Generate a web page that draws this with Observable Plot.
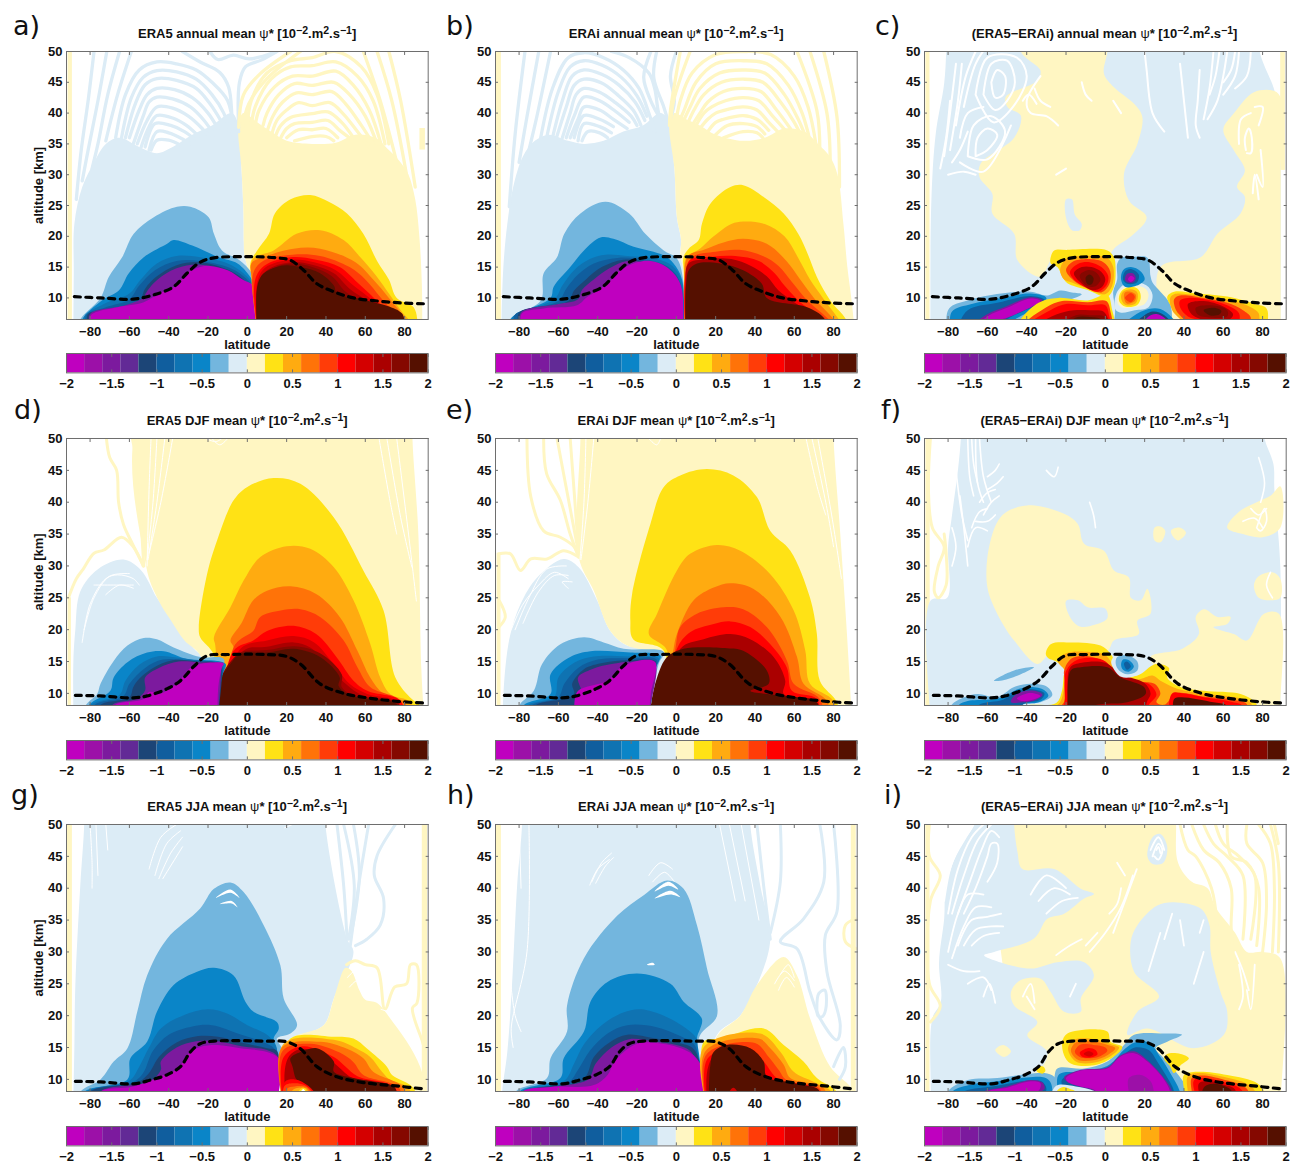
<!DOCTYPE html>
<html><head><meta charset="utf-8">
<script src="https://cdn.jsdelivr.net/npm/d3@7"></script>
<script src="https://cdn.jsdelivr.net/npm/@observablehq/plot@0.6"></script>
<style>
html,body{margin:0;padding:0;background:#fff}
#page{position:relative;width:1290px;height:1163px;overflow:hidden;font-family:"Liberation Sans",sans-serif}
#page svg{position:absolute;overflow:visible;background:transparent}
.ttl{position:absolute;text-align:center;font-weight:bold;font-size:13px;color:#111;white-space:nowrap;line-height:14px}
.ttl sup{font-size:10.5px;line-height:0;vertical-align:4px}
.ttl i{font-style:normal;font-weight:normal}
.lbl{position:absolute;font-family:"DejaVu Sans",sans-serif;font-size:27px;color:#111;line-height:30px}
</style></head><body><div id="page"></div>
<script>
const levels=[-2,-1.8,-1.6,-1.4,-1.2,-1,-.8,-.6,-.4,-.2,0,.2,.4,.6,.8,1,1.2,1.4,1.6,1.8];
const palette=["#bf00bf","#9c10a8","#7c1a9e","#622a96","#1c4577","#105e9e","#0f73b2","#0a85c8","#73b6de","#dcecf6","#fff6c2","#ffe215","#ffab10","#ff7308","#ff3c08","#ff0000","#d40000","#aa0000","#850800","#551000"];
const latTicks=[-80,-60,-40,-20,0,20,40,60,80];
const altTicks=[10,15,20,25,30,35,40,45,50];
const barTicks=[-2,-1.5,-1,-.5,0,.5,1,1.5,2];

const tropoAnn=[-88,10.2,-74.7,10,-58,9.8,-47.6,10.5,-37.5,11.8,-30.7,14,-24,15.8,-17,16.5,0,16.7,15,16.5,22,16.1,28.6,14.5,35.4,12.3,44,11,54,10,66,9.5,78,9.2,89.7,9.05];
const tropoDJF=[-87.5,9.7,-75,9.6,-58,9.3,-51,9.6,-41,10.7,-34,12,-27,14.3,-20.5,15.9,-10,16.1,10,16.1,20,15.8,27,14.6,37,11.5,49,10,61,9.3,78,8.7,89.7,8.5];
const tropoJJA=[-87.5,9.7,-74.7,9.6,-57.8,9.3,-49.3,9.9,-41,10.7,-34,12,-29,14.3,-24,15.6,-17,16,10,16,20,15.9,27,14.8,35.4,12,45.6,10.4,59,9.5,78,8.9,89.7,8.5];

// strips: lat1, lat2, alt1, alt2, level
// base / fill: [level,[lat,alt,...]]; lines: [level (-1 = white),[lat,alt,...]]
const aStrips=[[-91.2,-89,0,50,10],[87.8,90.6,34,37.5,10]];
const aBase=[
[9,[-88.5,5,-88.3,14,-88,22,-84,28,-78,32,-72,35,-65,36,-55,34.5,-46,33.5,-38,34.5,-28,36.5,-18,38,-8,40,-4.5,38,-3,31,-2,24,-1.8,19,-1.5,17,1,14,3.5,11,4.5,5]],
[10,[4.5,5,3.5,11,1,14,-1.5,17,-1.8,19,-2,24,-3,31,-4.5,38,-2,40,5,38.5,12,37,20,35.5,33,35,45,35.2,55,36.5,65,36,72,34,78,32,82,30,85.4,26,87.5,20,88.8,12,89,5]]];
const aLines=[
[9,[-78,50,-81,42,-84.5,34,-87,26]],[9,[-71.5,50,-76,42,-81,34,-84,29]],[9,[-65,50,-71,43,-76,35,-79,31]],[9,[-59,50,-66,43,-72,35.5]],
[9,[-67,36,-62,43,-55,47,-46,48.3,-36,48,-26,47,-18,45,-10,42,-7,37]],
[9,[-64,36,-59,42.5,-53,45.8,-46,46.9,-36,46.7,-26,45.5,-18,43,-12,40,-9,37]],
[9,[-62,36,-57,41.5,-52,44.6,-46,45.6,-36,45.3,-26,44,-19,41.5,-13,38.5]],
[9,[-60,36,-55,40.5,-51,43,-46,44,-37,43.8,-28,42.5,-20,40,-15,37.5]],
[9,[-58,35,-53,39.5,-50,41.8,-46,42.6,-38,42.3,-29,41,-22,38.8,-17,36.5]],
[9,[-56,35,-51,38.8,-46,41,-38,40.8,-30,39.5,-23,37.5,-19,36]],
[9,[-54,34.5,-50,37.8,-46,39.6,-38,39.2,-31,38,-25,36.3]],
[9,[-52,34.5,-47,38.3,-39,38,-32,37,-27,35.8]],
[9,[-50,34,-46,37,-40,36.8,-33,35.8,-29,35]],
[9,[-49,34,-46,35.6,-40,35.6,-34,34.8]],
[9,[-33,50,-24,48.3,-14,46.6,-9.5,44.2,-7.8,39.4,-7,35.6]],
[9,[-19,50,-15,48.7,-7,49.4,1,48.8,15,50]],
[9,[-4.4,37,-4,45,-1,47.5,7,48.6,15,50]],
[10,[72,50,78,42,85.4,28]],[10,[66,50,73.5,42,81,30]],[10,[59,50,67.6,42,76,32]],
[10,[22,50,6.6,46.4,-1.9,43,-4.4,37.7]],[10,[27,50,10,45.6,.7,41.5,-2.7,37.2]],
[10,[0,38,2,42,10,46.5,22,48.5,33,49,45,50,58,47.5,66,43,72,35]],
[10,[2,38,4,41,12,45.5,22,47.5,33,47.7,45,48.3,56,46,64,42,70,35]],
[10,[4,38,6,40.5,14,44.3,23,46,33,46,45,46.8,54,44.5,62,40.5,68,35]],
[10,[8,38,10,40,16,43,24,44.8,33,44.5,44,45,52,43,60,39.5,66,35]],
[10,[10,37,13,39.5,18,41.8,25,43.3,33,43,43,43.5,50,41.5,58,38,64,35]],
[10,[12,36,15,38.8,20,40.5,26,41.7,33,41.2,42,41.7,49,39.8,56,37,62,34.5]],
[10,[14,36,17,38,22,39.3,33,39.9,41,40.2,48,38.5,54,36]],
[10,[17,36,20,37.5,24,38.3,33,38.5,41,38.8,47,37.2,52,36]],
[10,[20,36,26,37.3,33,37.3,40,37.5,46,36]],
[10,[24,35.5,33,36.2,40,36.2,44,35.5]]];
const aFill=[
[8,[-85.5,5,-85,6.5,-74.7,10,-70.5,13.4,-63.7,16.6,-57.8,20.4,-47.6,23.1,-35.8,24.8,-29,24.8,-19.7,23.1,-17,20.4,-12.9,17.7,-3.5,16,4,13,4.6,5]],
[7,[-84,5,-84,6.5,-74,9.6,-65.4,11.2,-60.3,14,-52.7,16.6,-40.8,18.8,-37.5,19.4,-28,18.5,-14.6,16.6,-5,15.6,1.5,13.4,4,11.8,4.6,5]],
[6,[-83,5,-83,7,-73,9,-60,10.7,-54.4,12.9,-46,15.6,-36,16.8,-24,16.6,-10,15.6,-2,14,3.3,11.8,4.5,5]],
[5,[-82,5,-82,7.2,-72,8.5,-60,9.8,-55,12,-47,14.5,-36,16,-24,16,-10,15,-2,13.5,3,11.5,4.4,5]],
[4,[-81,5,-81,7.4,-70,7.8,-55,9.5,-52,11.5,-46,13.5,-36,15.3,-24,15.8,-10,14.6,-2,13,3,11,4.3,5]],
[2,[-80,5,-80,7.4,-62,8.8,-52,10.2,-52,10.5,-47,12.6,-36,14.8,-24,15.4,-10,14.2,-2,12.7,3.5,10.8,4.2,5]],
[0,[-80,5,-80,7,-77,7.7,-66,8.5,-52.7,9.3,-45,10.7,-36,12,-30.7,14,-24,15,-19,15.2,-10,14.5,-2,12.9,3.6,11.8,4.2,5]],
[11,[4.8,5,3,12,1.5,15.6,5,17.7,11,20.4,14,23.7,22,26,32,26.7,41.4,25.6,50.7,23.7,59,20.4,66,16,72,13,76,10,84.6,8.5,86.8,5]],
[12,[4.5,5,2,14,3,16.4,13.4,17.7,25,20.4,37,21,49,19.4,57.5,16.6,66,13.4,72,10.7,78,8,85,5]],
[13,[4.7,5,3,12,2,15.6,8,16.6,23.5,18,37,18,55,15.8,64,13,72,10,83,5]],
[14,[4.7,5,3,14,8,16,23,17,37,16.8,52,15,60,13,68,10,81,5]],
[15,[4.7,5,4,13,9,15.3,22,16.6,35,16.2,47,15,56,12.5,65,9.8,79,5]],
[16,[4.8,5,5,12.5,9,14.9,22,16.2,34,15.8,45,14.5,54,12,64,9.5,78,5]],
[17,[4.8,5,5.5,12,10,14.5,22,15.8,33,15.4,44,14,52,11.5,62,9.3,77,5]],
[18,[4.8,5,5.5,12,12,14.6,22,15.6,33,15,43,13.5,50,11,60,9.2,75,7,78,5]],
[19,[4.8,5,5.3,12.3,8.3,14,15,15,20,15.3,27,15,37,14,44,12,45.6,10.7,61,9.6,78.6,7.5,80,5]]];

const bStrips=[[-91.5,-89,0,50,10]];
const bBase=[
[9,[-89,5,-88,15,-86,22,-83,28,-78,33,-72,35.5,-65,36.5,-55,35.5,-47,35,-37,35.5,-27,37,-17,38,-8,40,-3.5,38.5,-1,31,.3,23,2.4,19.4,2,17,3.3,15,4,11.8,4.2,5]],
[10,[4.2,5,4,11.8,3.3,15,2,17,2.4,19.4,.3,23,-1,31,-3.5,38.5,-1,40,5,39,12,38,20,36.5,34,35.5,45,36,55,37.5,65,37,72,35,78,33,82,30,85,22,87,15,89,10,90.5,5]]];
const bLines=[
[9,[-77,50,-82,36.6,-85,24.8]],[9,[-70,50,-76,39.4,-80,32]],[9,[-64,50,-71,39.4,-75,34]],
[9,[-69,36,-63,44,-55,49,-47,49.8,-37,49,-27,47,-19,44,-14,40,-11,37]],
[9,[-66,36,-60,43.5,-54,47.5,-47,48.5,-38,47.8,-28,45.8,-20,42.8,-15,39.5]],
[9,[-63,36,-58,42,-53,46,-47,47,-38,46.3,-29,44.5,-21,41.8,-16,38.8]],
[9,[-61,36,-56,41,-52,44.5,-47,45.5,-38,44.9,-30,43,-22,40.5,-18,38]],
[9,[-58,36,-54,40,-51,43,-47,44,-39,43.4,-31,41.7,-23,39.5,-20,38]],
[9,[-56,36,-52,39.5,-47,42.6,-39,42,-31,40.3,-24,38.5]],
[9,[-54,36,-50,39,-47,41,-39,40.5,-32,39,-25,37.5]],
[9,[-52,36,-47,39.6,-39,39,-32,37.8]],[9,[-50,35.5,-47,38.3,-39,37.8,-33,36.8]],[9,[-48,35.5,-45,37,-39,36.8,-35,36]],
[9,[-33,50,-24,49,-14,46.5,-11,44,-9,40,-6,37.5]],
[9,[-13,50,-16.6,45.8,-13,42,-8,39]],[9,[-10,50,-11.5,45.8,-6.4,41,-4,38.5]],[9,[0,50,-3,46,-1,42,-3,39]],
[10,[75,50,81.7,39.4,83,28]],[10,[68,50,76.6,40,78.3,32]],[10,[61.4,50,71.5,40.4,73,34]],[10,[7,50,-1.4,42,-3,38]],[10,[2,50,-3,40.4,-3.5,38]],
[10,[0,39,2,42,8,46.5,20,49.5,34,50,48,49.5,60,46,67,41,71,35]],
[10,[2,39,4,40.5,10,45,20,48,34,48.5,46,48,57,44.5,64,40,68,35.5]],
[10,[4,39,7,41,12,44,22,46.5,34,47,45,46.5,55,43,62,39,66,36]],
[10,[6,38.5,9,40.5,14,43,23,45,34,45.5,44,45,53,41.8,60,38.5,64,36]],
[10,[8,38,12,40,16,41.8,24,43.5,34,44,43,43.5,51,40.5,58,37.5]],
[10,[10,38,14,40,18,41,25,42,34,42.5,42,42,49,39.5,56,37]],
[10,[12,37.5,16,39,20,40,26,40.6,34,41,41,40.5,47,38.5,53,36.5]],
[10,[16,37,20,38.5,24,39,34,39.6,41,39,47,37.2]],[10,[20,36.5,26,38,34,38.3,41,37.8,45,36.6]],[10,[24,36,34,37,41,36.8,44,36]]];
const bFill=[
[8,[-85,5,-84.7,6.5,-69,9.6,-67.5,14,-60.7,16.6,-57,20.4,-48.8,23.7,-36,25.6,-24,23.7,-15.8,20.4,-6.4,17.7,.3,16.4,3.4,13,4,5]],
[7,[-84,5,-84,6.7,-64,10,-62.4,11.8,-54,15,-47,17.7,-38.6,19.8,-32,19.6,-21.7,18.3,-6.4,16.9,-1.4,15.6,2.9,13,3.9,5]],
[6,[-83,5,-83,7,-62,9.8,-58,12,-52,14.5,-44,16.3,-36,17,-25,16.8,-10,16.3,-2,15.2,2.5,13,3.8,5]],
[5,[-82,5,-82,7.3,-60,9.5,-56,11.5,-50,13.8,-42,15.6,-30,16.5,-15,16.2,-4,15,2,12.5,3.7,5]],
[4,[-80,5,-80,7.6,-55,9.5,-52,11.2,-46,13,-38,15,-27,16.2,-15,15.9,-4,14.6,1.5,12,3.6,5]],
[2,[-79,5,-79,7.6,-60,9,-50,9.8,-48,11.3,-42,13,-34,14.8,-25,16,-15,15.6,-4,14.2,1.5,11.5,3.6,5]],
[0,[-79,5,-78.5,7.5,-67.5,8.3,-50.5,8.8,-45.5,10.1,-35,12.3,-28.5,14.5,-20,15.8,-13,16,-5,15,2,12.3,3.6,5]],
[11,[4.3,5,3.8,14,3.7,16.7,6.3,18,11.4,19.4,13,22,17.3,25.3,27.5,28,34,28.3,44.4,26.4,54.6,23.7,62,20.4,67,17,71.5,13.4,78.3,9.6,86.3,6.5,87,5]],
[12,[4.3,5,3.9,13,5,16.5,12,18,19,20,28,22,34,22.4,45,22,55,20,62,16.5,68,13,75,9.8,85,5]],
[13,[4.3,5,4,13,6,16.8,14,17.8,24,19,34,19.6,46,18.8,56,16,63,13,70,10,83,5]],
[14,[4.3,5,4.3,13,8,16.6,20,17.5,32,17.8,44,16.8,52,15.2,59,12.5,66,9.8,81,5]],
[15,[4.4,5,4.5,13,7,16.2,18,16.7,30,16.8,42,16,50,14,55,12,62,9.6,79,5]],
[17,[4.5,5,4.6,12,6,15.5,15,16.3,28,16.3,38,15.2,46,13.5,52,11.2,60,9.3,77,5]],
[19,[4.6,5,5,12.3,6.3,14.5,10.5,15.6,22.4,15.6,34,14.5,43.5,12.3,46,10,66.5,8.5,75,6.8,77,5]]];

const cStrips=[[-91.3,-89.2,0,50,10],[89.2,91.6,30.7,50,10]];
const cBase=[
[9,[-89,5,-88.5,25.8,-86.3,36.6,-82,44.8,-81,50,-81,55,78,55,78.5,50,86,43.7,88,40,89.2,30,89.2,5]],
[10,[1,50,1,55,-43,55,-43,50,-33,46.9,-34.6,45.3,-50.7,42.6,-49.8,41,-43,39.6,-46.4,36,-63.4,31.8,-64,29.6,-57.5,26.9,-57.5,23.7,-46.4,20.4,-44.7,16.1,-33,13.4,-26,16.6,1,16.6,4.4,18,14.6,20.4,21,23.1,12,25.8,9.5,30.2,16.3,35,18.8,39.4,14.6,41.5,4.4,44.2,-.7,46.4]],
[9,[-20,26,-17,26,-15.5,23.5,-12,22,-13,21,-17,21,-20,23]],
[10,[28,15,48.5,16.6,57,20.4,68.8,23.7,71,26.4,67,28,71,30.7,65.5,33.9,60,37.3,65.5,40,75.6,43.4,86,43.6,89.2,42.5,89.2,30.7,89.2,25.3,89.2,5,28,5]]];
const cLines=[
[-1,[-58,45,-55,47,-51,46,-52,43,-56,42.5,-58,45]],[-1,[-62,43,-58,48,-50,48.5,-46,45,-50,42,-56,40.5,-62,43]],[-1,[-66,43,-60,49,-45,49,-40,46,-47,41,-57,38.5,-66,43]],
[-1,[-72,41,-66,48,-60,51]],[-1,[-76,38,-71,46,-66,50]],[-1,[-79,34,-75,42,-73,48]],[-1,[-82,33,-79,40,-76,48]],[-1,[-84,31,-81,36,-79,42]],
[-1,[-66,33,-60,34,-55,36.5,-60,37.5,-65,36,-66,33]],[-1,[-70,33,-60,32.5,-51,37,-58,39.5,-67,38,-70,33]],[-1,[-74,32,-62,30.5,-48,38]],[-1,[-80,30,-72,30.5,-66,30]],[-1,[-74,36,-70,40,-62,41]],[-1,[-78,32,-74,34,-70,37]],
[-1,[-33,46,-40,42,-38,40,-30,39.5,-24,38]],[-1,[-42,42,-39,43,-35,41.5]],[-1,[-36,44,-33,42,-28,41]],
[-1,[20,50,21,47,24,40,30,37]],[-1,[38,48,40,42,42,36]],[-1,[48,47,47,42,46,38,48,36]],[-1,[55,50,53,44,50,39]],[-1,[62,50,60,46,57,42,52,39]],[-1,[68,50,66,46,60,43]],[-1,[74,50,72,46,66,44]],[-1,[58,50,56,46,53,43]],[-1,[66,50,64,47,60,45]],
[-1,[71.5,34,71,36,73,37.5,74.5,36,74,33.5,72,33.5]],[-1,[68,35,69,39,74,40]],[-1,[78,38,80,41,76,41]],[-1,[77,30,80,28,79,34]],[-1,[75,27,76,30,78,26]],[-1,[-12,45,-10,43,-7,42]],[-1,[4,42,8,40]],[-1,[-25,30,-20,31]]];
const cFill=[
[8,[-81,5,-79.5,8.3,-70,9.6,-53,10.7,-38,11,-29.5,10.4,-23,11.2,-17,10.9,-12,10.6,-29.5,8.3,-46,5]],
[7,[-79,5,-78,7.8,-68,9,-53,10,-38,10.7,-30,10,-33,8.7,-46,6.5,-50,5]],
[5,[-75,5,-70,8,-55,9.2,-38,10.3,-31,9.7,-35,8.8,-50,6.5,-54,5]],
[2,[-68,5,-62,7,-50,8.7,-38,10.1,-32,9.6,-37,8.6,-50,6.8,-56,5]],
[0,[-66,5,-60,7,-50,8.4,-38,9.9,-33,9.5,-38,8.5,-50,6.8,-58,6,-60,5]],
[8,[6,15.5,8,16.5,15,16.7,21.5,16.5,23,13.5,24,12.5,28,11,33,9,34,6,34,5,4,5,5,8,4,11,6,13]],
[9,[5,8.2,6,11,12,12.6,21,12,24,10.5,22,8.5,15,8,8,7.6]],
[10,[6.5,9,7,11,12,12,20,11.6,22,10.5,20,9,14,8.5,9,8.4]],
[11,[7,9.5,8,11,13,11.8,17,11.3,18,10,16,8.8,10,8.6]],
[12,[8,10,9,11,13,11.4,16,11,16.5,10,15,9,10,8.9]],
[13,[9.5,10,10,10.9,13,11,15.5,10.5,15,9.5,11,9.1]],
[14,[10,10,13,10.8,15,10.2,13,9.3]],
[7,[8,13,9,14.5,13,15,18,14.3,20,13,16,12,10,11.8]],
[5,[9,13,10,14.3,13,14.7,17,13.8,16,12.5,11,12.3]],
[2,[10,13,11,13.9,14,14,15.5,13.2,14,12.5,11,12.6]],
[0,[11.5,13,13,13.6,14.8,13.2,13,12.6]],
[7,[8,5,14,7,22,8.2,28,8.2,34,6.8,38,5]],
[4,[12,5,17,6.5,24,7.8,30,7.2,35,5]],
[0,[18,5,22,7,26,7.4,31,6.5,33,5]],
[11,[-27.8,16.6,-26,17.7,-19.3,17.8,1,17.7,4.4,16.6,5.2,15,4.4,11.8,1,10.2,-9,11.3,-19.3,12.4,-21.8,13.4,-24.4,15,-27.8,15.6]],
[12,[-23,14.5,-20,16.3,-10,16.8,1,16.5,4,15,3.5,12,0,10.6,-9,11.5,-17,12.5,-21,13]],
[14,[-20,14.5,-17,15.8,-9,16.3,-1,15.8,2.5,14.3,2,12.2,-2,10.9,-9,11.6,-16,12.8]],
[15,[-18,14.2,-14,15.5,-8,15.8,-2,15,1.5,13.5,.5,12,-4,11,-10,11.7,-16,13]],
[17,[-16,14,-12,15,-7,15,-2,14.2,0,13,-2,11.7,-7,11.3,-12,12.3]],
[18,[-13,13.7,-9,14.5,-5,14.2,-2.5,13,-5,11.9,-9,11.9,-12,12.8]],
[19,[-10,13.3,-8,13.8,-6,13.2,-7,12.2,-9,12.2]],
[11,[-46,5,-34,9.2,-24,10,-9,9.6,1,10.5,3.5,8,5.5,5]],
[14,[-43,5,-30,8.5,-22,9.5,-9,9.3,.5,9.5,2.8,7.5,4,5]],
[15,[-41,5,-28,8,-20,9,-9,8.8,0,8.8,2,7,3,5]],
[17,[-36,5,-25,7.3,-16,8,-8,8,-1,7.8,1.5,6.5,2,5]],
[18,[-24,5,-15,7.2,-8,7.2,0,6.9,1,5]],
[19,[-20,5.5,-14,6.9,-8,6.9,-2,6.5,-1,5]],
[11,[31.5,10.2,35,11,47,10.7,64,10.1,76,9,82,8.3,82.5,5,47,5,35,8]],
[12,[33,10,35,10.6,47,10.4,64,9.6,74,8.5,78,7.5,78,5,42,5,34,8]],
[14,[35,9.8,38,10.4,50,10,62,9.2,70,8,74,6.8,72,5,42,5.5,36,8]],
[15,[38,9.6,42,10,52,9.7,62,8.8,68,7.5,68,5.5,55,5.5,42,7,38,8.5]],
[17,[42,9,50,9.5,60,8.6,65,7.3,62,6.3,52,6.3,44,7.3]],
[18,[46,8.4,54,8.8,62,8,62,7,54,6.8,47,7.3]],
[19,[50,8,55,8.4,59,7.9,58,7.3,53,7.2]]];

const dStrips=[[-91.2,-89.5,0,25,10]];
const dBase=[
[9,[-88.5,5,-88.5,15,-87.5,20,-85,26,-76,29.5,-63,31,-54,29.3,-46,25,-39,22,-32,18.8,-24,16.2,-17,15.6,-8.6,15.6,-15,5]],
[10,[-51,55,-51.5,30,-45,24.5,-39,21.5,-32,18.3,-24,16,-14,5,90,5,88.5,14,87,35,84,50,84,55]]];
const dLines=[
[10,[-71.7,50,-70,47,-66.5,45,-65.5,40,-63,36.5,-58.5,33.5,-52.7,30]],
[10,[-58.5,50,-55,44,-54.5,40,-52.7,30]],
[10,[-91,25,-87,28,-83.5,29.5,-78,32,-73,32.5,-64,34.5,-58,33,-53,30]],
[-1,[-49,50,-50,42,-51,30]],[-1,[-46,50,-48,40,-51,31]],[-1,[-42,50,-46,40,-50.5,31]],[-1,[-38,50,-44,40,-50,32]],
[-1,[-21,50,-16,49.5,-13,50]],[-1,[-18,50,-14,49,-10,50]],
[-1,[76,50,82,35,86,24.5]],[-1,[71,50,78,37.6,83.7,29.8]],[-1,[67,50,72.7,40,76,35]],
[-1,[-84,18,-80,24,-72,28,-66,28.6,-58,28,-55,27]],[-1,[-83,20,-78,25,-70,28.4,-60,28.8]],[-1,[-78,27,-68,27,-58,27]],[-1,[-72,25.5,-65,27,-58,26.5]]];
const dFill=[
[11,[-14,5,-17,16,-24,18.8,-24.7,20.4,-20.5,28.7,-15.4,34,-7,40.3,0,42.4,13.4,43.8,27,42.9,44,37.6,59,29.3,69.3,23,75.3,12.5,83.7,9.1,88,8,90,5]],
[12,[-14,5,-16.3,17.5,-17,18.8,-8.6,23.5,-1.9,27.7,6.6,31.4,20,33.1,32,32.7,44,29.8,54,24.6,62.5,17.8,67.6,12.5,72.7,9.9,83,8.6,85,5]],
[13,[-14,5,-7,17.2,-8.6,18.3,-3,21,3,24.6,10,26.1,22,26.8,35,25.6,47,22,56,16.7,62.5,12.5,69,10,80,8.6,82,5]],
[14,[-14,5,-7,17.2,-3,18.6,3,19.8,6.6,22,17,23,27,23.2,37,22,49,18.3,56,14.1,62.5,11,78,8.8,80,5]],
[15,[-14,5,-7,16.7,3,18.3,10,19.8,23.6,20.6,35,19.3,45.6,15.6,54,12,61,10.4,78,8.8,80,5]],
[16,[-14.5,5,-3.5,17,10,18.3,23.6,19,34,18,44,14.6,52,11.5,61,9.9,76,8.7,78,5]],
[17,[-14.5,5,-2,16.7,10,17.3,23.6,18,32,17.2,42,14,50,11.5,59,9.6,75,8.5,76,5]],
[18,[-15,5,-14,12,-8,15.2,-3,16.5,10,16.8,24,17.4,37,16.3,48,13,48,11,53,9.8,62,9.3,77,8.4,78,5]],
[19,[-15,5,-14.6,11.5,-8.6,14.6,-3.5,16.2,10,16.4,23.6,17,37,15.7,47,12.5,46.4,11.2,50.7,9.9,61,9.1,76,8.3,78,5]],
[8,[-83,5,-82.4,8,-76.4,9.9,-74.7,11.5,-68,15.1,-61,17.5,-52.7,18.7,-46,18.5,-37.5,17.2,-24,15.7,-12,15.4,-14.8,12,-15.2,5]],
[7,[-82,5,-81,8,-69.7,10.4,-68,12.5,-61,14.9,-51,16.4,-42.5,16.6,-30.7,15.4,-15.4,15.1,-11,14.6,-13.7,12,-15.2,5]],
[6,[-81,5,-80,8.1,-65,9.8,-62,12,-55,14.5,-46,15.8,-35,15.6,-22,15,-12,14.7,-14,11.5,-15.2,5]],
[5,[-79,5,-78,8.1,-63,9.6,-60,11.5,-52,14,-43,15.3,-30,15.2,-15,14.8,-12.5,14,-14.5,10,-15.2,5]],
[4,[-76,5,-75,8.1,-60,9.4,-58,11,-55,12.3,-48,14,-38,15.2,-25,15,-14,14.6,-13,13,-15.2,5]],
[2,[-70,5,-69,8.1,-56,9.2,-52,10.5,-52,12.5,-45,14,-35,15,-25,14.9,-14,14.5,-13.5,13,-15.2,5]],
[0,[-69,5,-68,8,-52.7,9.1,-50,10.2,-44,10,-36,11.5,-29,14,-24,14.6,-12,14.7,-13,14,-14.6,11.5,-15.2,8,-15.2,5]]];

const eStrips=[[-91.2,-89.2,0,32,10]];
const eBase=[
[9,[-88.6,5,-87,14,-84.4,19.3,-79.3,24,-70.8,28.2,-57.3,31.1,-49.7,29.8,-40.3,24.6,-33.6,19.8,-25,17.5,-6.4,16.4,-13,5]],
[10,[-48.8,55,-48.8,50,-49.7,31.4,-42,26.1,-33.6,19.8,-25,17.5,-13,16.7,-6.4,16.4,-13,8,-13,5,89.3,5,86.8,19.3,83.4,35,80,50,80,55]]];
const eLines=[
[10,[-76,50,-74,40.8,-67.5,35.5,-59,34.5,-52,33,-49.7,31.4]],[10,[-67.5,50,-66,44.5,-59,40.3,-54,35,-49.7,31.4]],[10,[-60.7,50,-56.4,42.9,-49.7,32]],[10,[-54,50,-51.4,39.2,-49.7,32]],
[10,[-90.3,31.9,-84.4,31.9,-79.3,29.3,-74,31.1,-65.8,31.1,-57.3,32.4,-49.7,31.4]],[10,[-90,24.5,-87,22,-90,20.5]],
[-1,[-46,50,-47,40,-49,31]],[-1,[-42,50,-45,40,-48.5,31]],
[-1,[72,50,79,38,84,28]],[-1,[69,50,76,40,80,33]],[-1,[66,50,72,42,76,38]],[-1,[-14,50,-10,49,-8,50]],
[-1,[-84,20,-78,24,-70,27,-62,29,-55,28]],[-1,[-82,20,-75,25,-66,29.5,-56,30]],[-1,[-78,21,-70,26,-62,28.5,-55,28.5]],[-1,[-55,26.5,-58,27.5,-53,27.5]]];
const eFill=[
[11,[-7,5,-6.4,16.7,-22,18.5,-23.4,21.4,-22.5,25.6,-13.2,36.6,-6.4,42.4,2,44.2,15.6,45.2,29,44.2,41,40.8,47.8,35.5,58,32.4,68,25,71.5,19.3,73,12,81.7,8.6,83,5]],
[12,[-7,5,-4.7,16.7,-14,19.3,-9.8,22.5,.3,29.3,7,31.9,20.7,33.3,32.5,32.4,47.8,28.7,59.7,23,65.6,16.7,68,11.5,80,8.8,82,5]],
[13,[-7,5,-1.4,17,.3,19.3,8.8,24.6,19,26.6,27.5,27.3,39.3,26.4,53,22,61.4,15.7,64.7,11.5,76.6,8.8,78,5]],
[14,[-7,5,-.5,17,2,20.4,10.5,22.5,24,23.5,34,23.2,46,20.4,56.3,15.1,59.7,11.5,73,9.1,75,5]],
[15,[-7,5,.3,17,7,19.6,19,20.9,27.5,21.3,37.6,20.4,47.8,17.7,56.3,14,58.8,10.4,71.5,9.1,73,5]],
[17,[-7,5,2,17,13.9,18.5,27.5,19.3,37.6,18.5,49.5,15.7,55.4,12,54.6,9.9,70,8.8,72,5]],
[19,[-13.5,5,-13,8,-9.8,12.5,-4.7,15.7,3.7,17,25.8,17.1,34,16.7,46,13.6,47,11.5,37.6,10.4,54.6,9.6,71.5,8.6,73,5]],
[8,[-80,5,-80,8,-72.5,10.4,-68.3,14.6,-59,17.7,-47,18.8,-37,18,-26.8,17,-6.4,16.5,-9,14.6,-13,8,-13.5,5]],
[7,[-78,5,-78,8,-64,9.9,-64,13,-54,15.7,-43.7,16.6,-23.4,16.4,-8,15.9,-10.7,14,-13,8,-13.5,5]],
[6,[-76,5,-76,8,-62,9.5,-60,12.5,-52,14.8,-42,15.8,-25,15.8,-9,15.5,-11,13.5,-13,8,-13.5,5]],
[5,[-74,5,-74,8,-60,9.4,-57,11.5,-50,14,-40,15.3,-25,15.5,-10,15.3,-11.5,13,-13,8,-13.5,5]],
[4,[-72,5,-72,8,-56,9.2,-52,10,-53,11.5,-47,13.8,-37,14.8,-25,15.2,-10.5,15,-12,13,-13.2,8,-13.5,5]],
[2,[-53,5,-50,8.5,-48,10,-50,12.5,-43,13.8,-33,14.6,-22,15,-11,14.8,-13,8,-13.5,5]],
[0,[-52,5,-52,8,-50,10.4,-35,12,-28.5,14,-20,15.1,-10.7,14.9,-13,10,-13.5,8,-13.5,5]]];

const fStrips=[[-91.3,-89.1,0,50,10]];
const fBase=[
[9,[-89,5,-88.8,24.6,-80.5,25,-80,33,-78,38,-75,45,-73.5,50,-73,55,80,55,81,50,85.5,46,86,42,89,30,89,5]],
[10,[-60,31.4,-55.5,36.6,-50.7,38.4,-39.7,39.5,-21,38.2,-14,36.6,-10.8,33.5,-.7,32.4,4.4,29.3,12,28.2,13,25,18,24.6,21.4,26.4,23,22.5,16.3,21.4,17,19.3,4.4,18.3,1,16.7,-27.8,16.2,-34.6,14.6,-46.4,18.3,-49,19.3,-56.6,23.5,-60,26.6]],
[9,[-20,24.5,-14,24.6,-9,23.5,0,23.3,1,21.8,-5,20.8,-13,20.5,-18,22]],
[10,[23,15.7,39.2,17,47.6,19.3,46,22,50.2,23.2,57,22,63.7,22,62,20.9,55,20.4,65.4,19.3,72,18.3,80.7,22.5,88.3,22.5,89,8,89,5,35,5,35,8,28,13]],
[10,[25,36,28,36.2,30.5,35.5,28,33.7,25,34]],[10,[33.5,35.6,38,36,41,35.2,37,34,34,34.8]],
[10,[75.6,27,78,28.4,85,29,89,28,89,25,84,24.6,78,25]],
[10,[62,36,68,38.5,77,40,84,41,89,42.5,89,36,80,34.5,70,35]]];
const fLines=[
[-1,[-76,45,-73,38,-70,34]],[-1,[-66,50,-65,43,-62,40]],[-1,[-64,50,-62,44,-58,40]],[-1,[-60,42,-55,43,-52,44]],[-1,[-62,38,-58,40,-54,41]],[-1,[-66,37,-60,37,-56,38]],[-1,[-70,33,-66,36,-60,35.5]],
[-1,[-70,50,-69,44,-67,41]],[-1,[-68,50,-67,46,-65,43]],[-1,[-60,44,-56,45,-54,46]],[-1,[-64,40,-60,41.5,-56,42]],[-1,[-68,36,-64,38.5,-60,39]],[-1,[-74,41,-72,36,-70,30]],[-1,[-78,30,-76,33,-78,36]],
[-1,[-30,45,-26,44,-24,45.5]],[-1,[-8,40,-6,38,-5,36]],[-1,[74,39,78,38,82,39]],[-1,[77,36,81,39,82,37,79,35.5,77,36]],[-1,[70,37,76,37.5,80,36]],[-1,[-85,33,-83,28,-85,26,-87,29,-85,33]],[-1,[84,29,82,27,85,25]],[-1,[78,47,81,43,79,40]],
[10,[-89,50,-90,42,-88,36,-82,33,-85,30,-87,26,-85,25,-81,27,-81,32,-82,35]]];
const fFill=[
[11,[-30.3,16.2,-27.8,17.7,-19.3,18,-2.4,17.5,2.7,16.2,5.3,14.6,7.8,13,16.3,12.8,25.6,14.6,32.4,14,31.5,12.5,38.3,11,50.2,10.4,68.8,9.9,75.6,8.8,77.3,8,78,5,-45,5,-43,7.8,-25,8.5,-22,10.5,-21,13,-20,13.5,-25,15,-29,15.5]],
[12,[-24,15,-20,16.3,-8,16.5,0,16,5,13.8,8,12.5,17,12.2,24,12.8,28,12,37,10.7,50,10,66,9.4,74,8.5,75,5,-42,5,-40,7.8,-24,8.3,-21,11,-20.5,13.5]],
[14,[-21,13.5,-17,15.5,-8,15.8,-1,15,5,13,10,12,18,11.8,25,11.5,28,10,26,8.6,30,8.2,36,10,50,9.5,65,9,72,8.3,72,5,-38,5,-34,7.8,-22,8.2,-20,11]],
[15,[-21,8,-20,13.5,-14,15.3,-1,15.2,6,13,13,12,22,11.5,26,9.8,22,8.1,20,5,-25,5]],
[15,[34,10,40,10,52,9.3,64,8.7,70,8,70,5,32,5]],
[17,[-19,8.2,-18,14,-12,14.8,0,14.8,8,13,20,11.6,23,10,21,8.5,20,5,-20,5]],
[19,[-19.3,8,-17.6,13.6,-12.5,14.1,1,14.1,7.8,12.5,19.7,11,20.5,9.9,11.2,8.6,-2.4,8.3,-19.3,7.5]],
[19,[35,9.1,38.3,9.4,55,8.6,62,8,62,5,35,5]],
[8,[-78,5,-78.6,8,-71.8,9.4,-65,9.9,-55,9.4,-46.4,11,-38,11.5,-29.5,11,-27,9.7,-33,8.6,-46,8,-46,5]],
[7,[-75,5,-75,8,-70,8.8,-60,9,-52,9.4,-45,10.6,-38,11,-31,10.5,-29,9.6,-34,8.6,-44,8,-45,5]],
[5,[-65,5,-65,8,-52,9,-45,10.3,-38,10.7,-31,10,-33,9,-42,8.2,-45,5]],
[2,[-47,9.4,-42,10.3,-36,10.4,-32,9.8,-36,8.9,-42,8.6,-48,8.6]],
[0,[-45,9.2,-40,10,-36,10,-33,9.6,-37,9,-42,8.8]],
[8,[-56.6,12,-46.4,13.6,-36.3,14.1,-43,13,-53.3,12]],
[9,[3,15,6,16.2,12,16.3,18,15,19,13.5,14,12.6,8,12.6,4,14]],
[8,[5.3,14.6,6,15.7,11.2,16,16.3,15,16.3,13.6,11.2,13,7,13.6]],
[7,[8,14.5,9,15.3,12,15.2,14.5,14.2,12,13.4,9,13.7]],
[5,[9.5,14.7,11,15,13,14.2,11,13.7]]];

const gStrips=[[-91.5,-89,0,50,10],[89,91.7,0,50,10]];
const gBase=[
[9,[-88.6,5,-88,15,-87.5,24.8,-85,40.4,-83,50,-83,55,39.7,55,39.7,50,50.7,32.1,54,30,44,22.7,38.8,18.5,23.6,16.6,19,15.5,16,8,16,5]],
[10,[23,16.6,38.8,18.5,44,22.7,50,27.5,53,27,57,24,60,22.5,66,22,74,19,83,15,89,11,90,8,90,5,16,5,19,15]]];
const gLines=[
[9,[61.7,50,56.6,40.4,52.4,31]],[9,[75.3,50,66,45.1,64.6,42,69.3,38.4,67.6,34.2,60.8,32,55,31]],[9,[45.6,50,49,40.4,50.7,32]],[9,[49,50,54.4,40.4,51.5,32]],[9,[54,50,57,42,53,33]],
[-1,[-80,50,-79,44,-79,40]],[-1,[-77,50,-76,42]],[-1,[-72,50,-71,46]],
[-1,[-50,43,-44,48,-36,50]],[-1,[-47,42,-41,47,-34,49]],[-1,[-45,41.5,-39,45.5,-33,48]],[-1,[-43,41.5,-37,44.5,-33,46.5]],
[-1,[19,49.5,23,50]],
[10,[50.5,28,55,28.6,60,28,66,27.5,70,21,75,24.5,81,25,83,28,86,28,86.3,22,84,21.2,89,16,90,15]],
[-1,[52,24.5,56,25.5,60,24]],[-1,[51,26,55,27,60,25.5]],[-1,[68,21,75,20,82,17,87,13]],[-1,[72,20,78,18.5,84,15]]];
const gFill=[
[8,[-85,5,-85,8,-74.7,10,-68,12.8,-61,14.9,-56,20.6,-51,26.3,-41,32,-24,36.8,-17,39.9,-8.6,40.9,-1.9,39.4,8.3,34.2,16.8,27.9,18.5,22.7,25.3,18.5,21.9,17.2,15,16.4,18,14.5,16,8,16,5]],
[-1,[-16,38.5,-8.6,39.8,-4,38.5,-8.6,39.3]],[-1,[-14,37.5,-8,38,-5,37,-8,37.6]],
[7,[-83,5,-83,8,-61,10,-59.5,13.3,-51,15.9,-46,20.6,-37.5,24.8,-25.6,26.9,-17,27.5,-7,26.3,-1,22.2,3.2,20.6,15,19,16,18,13.4,16.4,15,14.9,16,8,16,5]],
[6,[-82,5,-82,8,-60,9.8,-55,12,-50,15,-44,18,-33,20,-20,21,-10,20.3,0,18.5,10,17,13,16,15,14.7,16,8,16,5]],
[5,[-81,5,-81,8,-58,9.6,-53,11,-48,14.5,-40,17,-28,18.3,-18,18.5,-3,17,10,15.6,14,14.7,16,8,16,5]],
[4,[-80,5,-80,8,-56,9.5,-50,11,-45,13.5,-36,15.8,-25,16.8,-15,16.7,-3,15.8,10,14.9,15,14.5,16,8,16,5]],
[2,[-75,5,-75,8,-56,9.2,-50,9.5,-44,11.5,-44,12.8,-36,15,-26,16,-15,16,-3,15.2,10,14.6,15.5,13.5,16,8,16,5]],
[0,[-75,5,-74.7,8,-58,8.9,-42.5,10.7,-36,11.5,-29,14.3,-24,15.1,-15.4,15.4,-3.6,14.9,10,14.3,16,13.3,17.6,11.2,16,8,16,5]],
[11,[18,5,18,10,21.9,16.4,44,16.7,54,16.4,61,14.8,71,12,73.6,10.7,84.6,8.6,86,5]],
[12,[18,5,18.5,15.6,44,16.2,55.8,14.8,62.5,13.5,68.5,11.2,72.7,9.9,82,8.7,84,5]],
[13,[18,5,17.6,15,37,15.9,50.7,14.8,59,13.3,64,11.2,79.5,8.7,81,5]],
[14,[18,5,18,14.5,32,15.6,47,14.2,54,12.7,59,10.7,77,8.7,79,5]],
[15,[18,5,18.5,13.5,28,15.2,44,13.5,50,12,56,10.5,75,8.7,77,5]],
[17,[23,5,19,9,21,13.5,28,14.8,41,13.2,47,11.8,53,10.3,72,8.6,74,5]],
[19,[35,5,28,9.5,25,10,23,12,21.9,13.3,27,14.3,35.4,14.9,44,12.8,44,11.2,54,10.2,74.4,8.9,76,8,76,5]],
[15,[18,5,19,9.6,24,10,28,9.6,34,8,36,5]],[14,[18,5,19,9,24,9.4,29,9.1,33,8,34,5]],[13,[19,5,20,8.5,24,8.9,30,8.8,32,8,32,5]],[12,[22,5,23,8.3,26,8.7,30,8.6,31,8,31,5]],[11,[26,8,27,8.5,28.5,8.7,30,8.4,29.5,8]],[-1,[27.5,8.2,28.5,8.5,29.3,8.2,28.5,8]]];

const hStrips=[[-91.5,-89,0,50,10],[89,91.5,0,50,10]];
const hBase=[
[9,[-88.6,5,-88.6,8,-86,14.3,-83.6,24.8,-81,40.4,-78.5,50,-78.5,55,37.6,55,37.6,50,42.7,40.4,47.8,32,41,24.8,32.5,20,20.7,17,14,8,14,5]],
[10,[14,5,14,8,20.7,16.8,32.5,20,41,24.8,54.6,29.2,61.4,26.3,68,19.6,78.3,12,88.5,8.9,90,8,90,5]]];
const hLines=[
[9,[41,50,44.4,40.4,47.8,32]],[9,[52.9,50,52.9,41,47.8,33]],
[9,[73,50,75,41,64.7,35.2,52.9,31.6,61.4,30.5,68,23.7,73.2,19.5,81.7,16.2,83.4,18.5,76.6,26.9,75.8,32.6,81.7,36.3,80,50]],
[9,[71.5,21,72.5,23.5,75.5,24,76,21,74,19.8,72,20,71.5,21]],
[9,[80,12,85,15,86,12,83,10]],
[10,[91,35.2,86,34.2,86,31.6,91.5,30.5]],
[-1,[-80,50,-79,40]],[-1,[-75,50,-76,30,-84,18,-83,15]],[-1,[-84.5,26,-82,20,-79,17.5]],
[-1,[-44,40.5,-40,43,-34,44.5]],[-1,[-43,41,-38,44,-33,45.5]],[-1,[-41,40.8,-36,43.5,-32,44.8]],[-1,[-14,42,-8,44,-2,43]],[-1,[-12,41,-6,42.5,-1,41]],
[-1,[22,50,30,38]],[-1,[27,50,35,38]],[-1,[33,50,42,35]],
[-1,[52,24,56,26,60,24.5]],[-1,[50,25,55,27,60,25.5]],[-1,[53,26.5,57,28,60,26]]];
const hFill=[
[8,[-82,5,-81.9,8,-65.8,10.2,-64,13.3,-55.6,17.5,-55.6,21.6,-47,29,-30,35.7,-16.6,38.9,-4.7,41.2,3.7,39.9,10.5,34.2,15.6,27.4,20.7,20,12.2,17,10.5,14.3,14,8,14,5]],
[-1,[-11,39.5,-4,41,1,39.8,-4,40.4]],[-1,[-11,38.4,-3,39.6,2,38.6,-3,39]],[-1,[-15,28,-12,28.3,-11,28,-13,27.9]],
[7,[-80,5,-80,8,-59,10.2,-57.3,13.3,-47,17.5,-43.7,22.2,-35,25.3,-20,26.6,-3,25,3.7,22.2,13,19.5,10.5,16.4,11.4,14.3,14,8,14,5]],
[6,[-79,5,-79,8,-57,9.8,-52,12.5,-47,15.5,-38,18.5,-27,20.5,-18,21,-5,19.8,5,18,10,16.5,11,14,14,8,14,5]],
[5,[-78,5,-78,8,-55,9.5,-50,11.5,-44,14.5,-35,17.2,-25,18.5,-10,18.2,2,16.8,9,15.5,11,13.7,14,8,14,5]],
[4,[-76,5,-76,8,-52,9.4,-46,10.5,-42,13.5,-34,15.8,-25,17,-12,16.5,0,15.8,8,15,11,13.5,14,8,14,5]],
[2,[-70,5,-70,8,-45,10,-41,12.5,-33,15,-24,16.3,-12,16,0,15.4,7,14.5,11,12,14,8,14,5]],
[0,[-78.5,5,-78.5,8,-64,8.8,-42,9.1,-35,10.7,-32,12.5,-26.8,14.3,-20,15.6,-13,15.8,.3,15.1,8.8,13.8,13.9,11.2,14.2,8,14,5]],
[11,[15,5,14,15.9,22.4,16.4,44.4,18,54.6,15.4,64.7,12.8,71.5,10.2,81.7,8,83,5]],
[12,[15,5,14,15.1,42.7,17.2,53,14.3,59.7,11.2,70,9.6,79,8,80,5]],
[13,[15,5,15,14.5,41.9,16.4,47.8,14.9,54.6,12.3,58,10.2,75,8.6,77,5]],
[14,[15,5,15.5,14,40,15.7,47,13.5,52,11.5,56,9.9,73,8.5,75,5]],
[15,[15,5,16,13.3,30,15,38,14.8,45,12.6,50,10.5,54,9.7,71,8.5,73,5]],
[17,[15.5,5,16.5,12.3,24,15.3,36,14.4,43,12.2,47,10.2,69,8.4,71,5]],
[19,[16,5,16.5,8,17.3,12.2,19,14.3,25.8,15.4,37.6,14.9,44.4,12.8,46,10.4,56.3,9.6,71.5,8.6,73,8,73,5]],
[16,[27,8,29,8.7,31,8,29,7]]];

const iStrips=[[-91.3,-89.2,0,50,10]];
const iBase=[
[10,[-50,5,-50,20,-50,55,36,55,36,50,37,44,44,41,52,40,56,37,66,33,72,30,80,30,89,29,89,5]],
[9,[-88.8,5,-88.8,8.3,-88,19.6,-83.7,22.2,-84.6,28.4,-82,35.2,-81,40.4,-73.6,46.7,-66.8,50,-66.8,55,-46.4,55,-46.4,50,-44.7,45.7,-42.2,43,-26,43,-12.5,39.9,-5.8,39.1,-10.8,38.4,-21,36,-29.5,35.2,-36.3,32.1,-56.6,30,-61.7,29.5,-56.6,28.7,-38,27.4,-24.4,28.4,-10.8,28.4,-5.8,26.3,-12.5,22.7,-12.5,20.6,-21,20.6,-27.8,23.7,-32.9,25.8,-43,25.6,-48,23.7,-46.4,21.6,-34.6,19,-39.7,16.9,-29.5,14.3,-33,11.7,-45,10,-60,9,-60,5]],
[10,[-56,14.6,-52,15.4,-48,14.4,-51.5,13.5]],
[9,[26.4,37.3,35,37.8,48.5,36.8,53,34.2,53.6,30,58.6,23.7,62,20.6,60.3,17,45,14.9,21.4,18,11.2,17,16.3,20.6,27.3,23,14.6,26.9,12.9,31.6,16.3,34.2]],
[9,[21.4,45,24,48,28,48.5,31.5,46.5,29.5,44,24,43.8]]];
const iLines=[
[-1,[-82,38,-78,44,-71,48,-67,50]],[-1,[-80,36,-75,43,-68,48,-62,50]],[-1,[-78,36,-72,42,-65,47.5,-58,50]],[-1,[-75,36,-69,41,-63,46,-58,49,-54,48]],[-1,[-72,36,-66,40,-60,45,-58,47,-55,47,-55,44,-60,41]],
[-1,[-80,30,-75,36,-70,39,-62,39]],[-1,[-78,29,-72,34,-66,37,-58,37]],[-1,[-75,31,-68,35,-60,35.5,-53,36]],[-1,[-72,31,-66,33.5,-58,34,-52,34]],[-1,[-68,31,-62,32.5,-54,33]],
[-1,[-80,28,-72,27,-64,27]],[-1,[-70,25,-62,26,-58,24]],[-1,[-62,23,-59,25,-56,22]],[-1,[-42,23,-38,25,-36,22]],[-1,[-18,23,-15,25]],
[-1,[-38,39,-30,42,-20,40]],[-1,[-34,38,-26,40,-18,39]],[-1,[-30,36,-22,38,-14,38.5]],
[-1,[24,45,27,47,29,46,27,44.5,25,45]],[-1,[23,46,27,48,30,46]],[-1,[26,46,27,46.5,28,45.5]],
[-1,[-8,30,0,33,8,37,14,42]],[-1,[4,33,10,38,16,43]],[-1,[2,36,6,37.5,8,40]],[-1,[-10,31,-4,33]],[-1,[-25,29.5,-18,31,-12,32]],[-1,[6,44,10,42]],
[-1,[22,27,28,33]],[-1,[30,32,34,36]],[-1,[40,31,38,35]],[-1,[48,33,50,35]],[-1,[45,25,50,30]],[-1,[-40,23,-36,21]],
[-1,[66,30,70,27,73,24]],[-1,[76,28,74,21,72,24]],[-1,[68,28,70,23,68,21]],
[10,[-89.5,50,-89.5,45,-84,42,-89,38,-89.5,25,-84,21.5,-89,19]],
[10,[38,50,42,46,46,45,54,40,57,34]],[10,[44,50,50,46,58,44,64,40,64,34,65,30]],[10,[50,50,55,47,62,45,70,42,70,32]],[10,[56,50,60,47,68,45,76,42,74,32]],[10,[62,50,64,45,72,44,78,40,77,31]],[10,[72,50,72,47,80,44,82,38,80,30]],[10,[78,50,84,47,86,40,85,30]],[10,[86,50,88,47]],[10,[84,50,88,44,88,30]]];
const iFill=[
[8,[-80.3,8,-70,9.9,-55,10.2,-40,10.8,-31,11,-26,10.4,-24,8,-27,5,-80,5]],
[8,[-27.8,5,-27.8,8,-26,10.2,-24.4,11.7,-10.8,11.7,1,12.8,9.5,15.4,14.6,17,29.8,17.2,39,17,31.5,15.9,25.6,14.9,29.8,13.3,38.3,10.2,42.5,8,43,5]],
[7,[-78,8,-68,9.2,-55,9.7,-40,10.3,-31,10.3,-28,9.6,-27,8,-30,5,-78,5]],
[7,[-25,5,-24.5,8,-23.5,10.8,-10,11.2,2,12.3,10,14.8,15,15.8,22,15.8,28,13.5,33,11,38,8,39,5]],
[5,[-72,8,-55,9,-40,9.8,-32,9.6,-30,8.4,-34,7,-70,7]],
[5,[-19,5,-21,8,-22,10,-10,10.8,3,12,10,14,15,15,22,14.6,27,12.5,33,9.5,35,8,35,5]],
[2,[-62,8,-50,8.9,-38,9.9,-32,9.5,-31,8.5,-40,7.5,-60,7]],
[2,[-21,10.3,-12.5,11.5,1,11.9,7.8,13.8,14.6,14.4,21.4,13,29.8,10.2,34,8,34,5,-6,5,-6,8.1,-12.5,8.8,-19,9.5]],
[0,[-60,8,-50,8.7,-38,9.7,-33,9.4,-34,8.2,-40,8,-40,6,-60,6]],
[0,[-20,10.2,-12.5,11.4,1,11.7,7.8,13.6,14.6,14.1,21.4,12.8,29.8,10,33,8,33,5,-5,5,-5,8.2,-12.5,8.9,-19,9.6]],
[1,[12,10.2,18,10.7,23,9.7,24.7,8,24.7,6,14.6,6,12,8]],
[9,[-28,7,-25,9,-15,8.9,-5,8.1,0,7,-28,5]],
[11,[-25,8,-21.5,8.8,-18,8.5,-15,8,-15,5,-25,5]],
[11,[-21.9,15.9,-19.3,17.2,1,17.5,2.7,15.9,8.6,15.1,4.4,13.6,-5.8,12.2,-17.6,12.5,-21,13.8]],
[12,[-19,14.8,-16,16.2,-5,16.3,3,15.5,7,15,3,13.7,-6,12.6,-15,12.8]],
[13,[-17.5,14.5,-15,15.8,-5,15.9,2,15.3,5,14.9,1,13.8,-6,13,-14,13.1]],
[14,[-15.5,14.3,-13,15.4,-6,15.4,0,15,1,14.5,-3,13.6,-9,13.3,-13,13.5]],
[15,[-13,14.2,-9,14.9,-5,14.6,-4,13.9,-8,13.4,-12,13.6]],
[16,[-11,14,-8.5,14.4,-6,14,-8,13.6]],
[11,[29.8,13.3,31.5,14,38.3,14,42.5,13.3,38.3,12.2,35,11,33,12]],
[11,[-34.6,12,-31.5,12,-30.5,11.3,-32,10.9,-35,11.3]],
[11,[40,10.7,46.8,11.2,62,10.7,77.3,9.4,80.7,8,78,5,43,5,40,8.5]],
[12,[42,10.5,47,11,60,10.4,72,9.3,76,8.2,75,5,44,5,42,8]],
[14,[44,10.2,49,10.6,60,10,70,9,73,8,72,5,46,5,44,8]],
[15,[45,9.8,50,10.2,60,9.6,67,8.9,70,8,68,5,48,5]],
[17,[47.5,9.3,52,9.8,60,9.2,66,8.4,65,5,50,5]],
[19,[50,8.7,55,9.3,61,8.9,64,8.3,64,6,50,6]]];

const panels=[
{id:"a",col:0,row:0,title:"ERA5 annual mean",tropo:tropoAnn,strips:aStrips,base:aBase,lines:aLines,fill:aFill,wl:2,cl:3.3},
{id:"b",col:1,row:0,title:"ERAi annual mean",tropo:tropoAnn,strips:bStrips,base:bBase,lines:bLines,fill:bFill,wl:2,cl:3.3},
{id:"c",col:2,row:0,title:"(ERA5−ERAi) annual mean",tropo:tropoAnn,strips:cStrips,base:cBase,lines:cLines,fill:cFill,wl:2,cl:3},
{id:"d",col:0,row:1,title:"ERA5 DJF mean",tropo:tropoDJF,strips:dStrips,base:dBase,lines:dLines,fill:dFill,wl:1,cl:3},
{id:"e",col:1,row:1,title:"ERAi DJF mean",tropo:tropoDJF,strips:eStrips,base:eBase,lines:eLines,fill:eFill,wl:1,cl:3},
{id:"f",col:2,row:1,title:"(ERA5−ERAi) DJF mean",tropo:tropoDJF,strips:fStrips,base:fBase,lines:fLines,fill:fFill,wl:1.6,cl:3},
{id:"g",col:0,row:2,title:"ERA5 JJA mean",tropo:tropoJJA,strips:gStrips,base:gBase,lines:gLines,fill:gFill,wl:1,cl:3},
{id:"h",col:1,row:2,title:"ERAi JJA mean",tropo:tropoJJA,strips:hStrips,base:hBase,lines:hLines,fill:hFill,wl:1,cl:3},
{id:"i",col:2,row:2,title:"(ERA5−ERAi) JJA mean",tropo:tropoJJA,strips:iStrips,base:iBase,lines:iLines,fill:iFill,wl:1.8,cl:3}];

const colX=[66.3,495.3,923.7], frameW=361.7;
const rows=[{top:51,bottom:319,ymin:6.5,bar:353.3,tt:27,ly:11},{top:438,bottom:705,ymin:8.1,bar:739.7,tt:414,ly:395},{top:824,bottom:1091,ymin:8.1,bar:1126.3,tt:800,ly:780}];
const lblX={a:13,b:446,c:875,d:14,e:446,f:881,g:11,h:447,i:884};
const page=document.getElementById("page");
const pts=a=>d3.range(0,a.length,2).map(i=>({x:a[i],y:a[i+1]}));
// a polygon that closes along the bottom is carried below the frame, so the closing edge stays out of sight and does not bend the visible edges
function closedPts(a){
  const p=pts(a),out=[];
  p.forEach((q,i)=>{
    const n=p[(i+1)%p.length];
    out.push(q);
    if(q.y<=5.5&&n.y<=5.5&&Math.abs(q.x-n.x)>3){
      out.push({x:q.x,y:1},{x:q.x,y:-4},{x:n.x,y:-4},{x:n.x,y:1});
    }
  });
  return out;
}
const FRAME="#6e6e6e",INK="#111";
const fmt=d=>String(d).replace("-","−");
const fontOpts={fontSize:13,fontWeight:"bold",fill:INK};
function place(svg,left,top){svg.style.left=left+"px";svg.style.top=top+"px";page.appendChild(svg);}

panels.forEach(p=>{
  const r=rows[p.row],x0=colX[p.col],H=r.bottom-r.top;
  const shape=([L,a])=>Plot.line(closedPts(a),{x:"x",y:"y",fill:L<0?"#fff":palette[L],stroke:"none",curve:"catmull-rom-closed",clip:"frame"});
  const contour=([L,a])=>Plot.line(pts(a),{x:"x",y:"y",stroke:L<0?"#fff":palette[L],strokeWidth:L<0?p.wl:p.cl,curve:"catmull-rom",clip:"frame"});
  const ml=60,mr=14,mt=6,mb=36;
  const svg=Plot.plot({
    width:frameW+ml+mr,height:H+mt+mb,marginLeft:ml,marginRight:mr,marginTop:mt,marginBottom:mb,
    style:{background:"transparent",fontFamily:"'Liberation Sans',sans-serif"},
    x:{domain:[-92,92],label:null},y:{domain:[r.ymin,50],label:null},
    marks:[
      Plot.rect(p.strips,{x1:d=>d[0],x2:d=>d[1],y1:d=>Math.max(d[2],r.ymin),y2:d=>d[3],fill:d=>palette[d[4]],clip:"frame"}),
      ...p.base.map(shape),
      ...p.lines.map(contour),
      ...p.fill.map(shape),
      Plot.line(pts(p.tropo),{x:"x",y:"y",stroke:"#000",strokeWidth:3.2,strokeDasharray:"6,5.5",curve:"catmull-rom",clip:"frame"}),
      Plot.frame({stroke:FRAME}),
      Plot.axisX({anchor:"bottom",ticks:latTicks,tickSize:-3,tickPadding:10,tickFormat:fmt,stroke:FRAME,...fontOpts,label:"latitude",labelAnchor:"center",labelArrow:"none",labelOffset:29.5}),
      Plot.axisX({anchor:"top",ticks:latTicks,tickSize:-3,tickFormat:()=>"",stroke:FRAME,label:null}),
      Plot.axisY({anchor:"left",ticks:altTicks,tickSize:-3,tickPadding:7,stroke:FRAME,...fontOpts,label:p.col===0?"altitude [km]":null,labelAnchor:"center",labelArrow:"none",labelOffset:33}),
      Plot.axisY({anchor:"right",ticks:altTicks,tickSize:-3,tickFormat:()=>"",stroke:FRAME,label:null})
    ]});
  place(svg,x0-ml,r.top-mt);

  const bar=Plot.plot({
    width:frameW+40,height:19.4+20,marginLeft:20,marginRight:20,marginTop:0,marginBottom:20,
    style:{background:"transparent",fontFamily:"'Liberation Sans',sans-serif"},
    x:{domain:[-2,2],label:null},y:{domain:[0,1],axis:null},
    marks:[
      Plot.rect(levels,{x1:d=>d,x2:d=>d+0.2,y1:0,y2:1,fill:(d,i)=>palette[i],inset:0}),
      Plot.frame({stroke:FRAME}),
      Plot.axisX({anchor:"bottom",ticks:barTicks,tickSize:-3,tickPadding:9,tickFormat:fmt,stroke:FRAME,...fontOpts,label:null}),
      Plot.axisX({anchor:"top",ticks:barTicks,tickSize:-3,tickFormat:()=>"",stroke:FRAME,label:null})
    ]});
  place(bar,x0-20,r.bar);

  const t=document.createElement("div");t.className="ttl";
  t.style.left=(x0-60)+"px";t.style.width=(frameW+120)+"px";t.style.top=r.tt+"px";
  t.innerHTML=p.title+" <i>ψ</i>* [10<sup>−2</sup>.m<sup>2</sup>.s<sup>−1</sup>]";
  page.appendChild(t);

  const l=document.createElement("div");l.className="lbl";
  l.style.left=lblX[p.id]+"px";l.style.top=r.ly+"px";l.textContent=p.id+")";
  page.appendChild(l);
});
</script></body></html>
